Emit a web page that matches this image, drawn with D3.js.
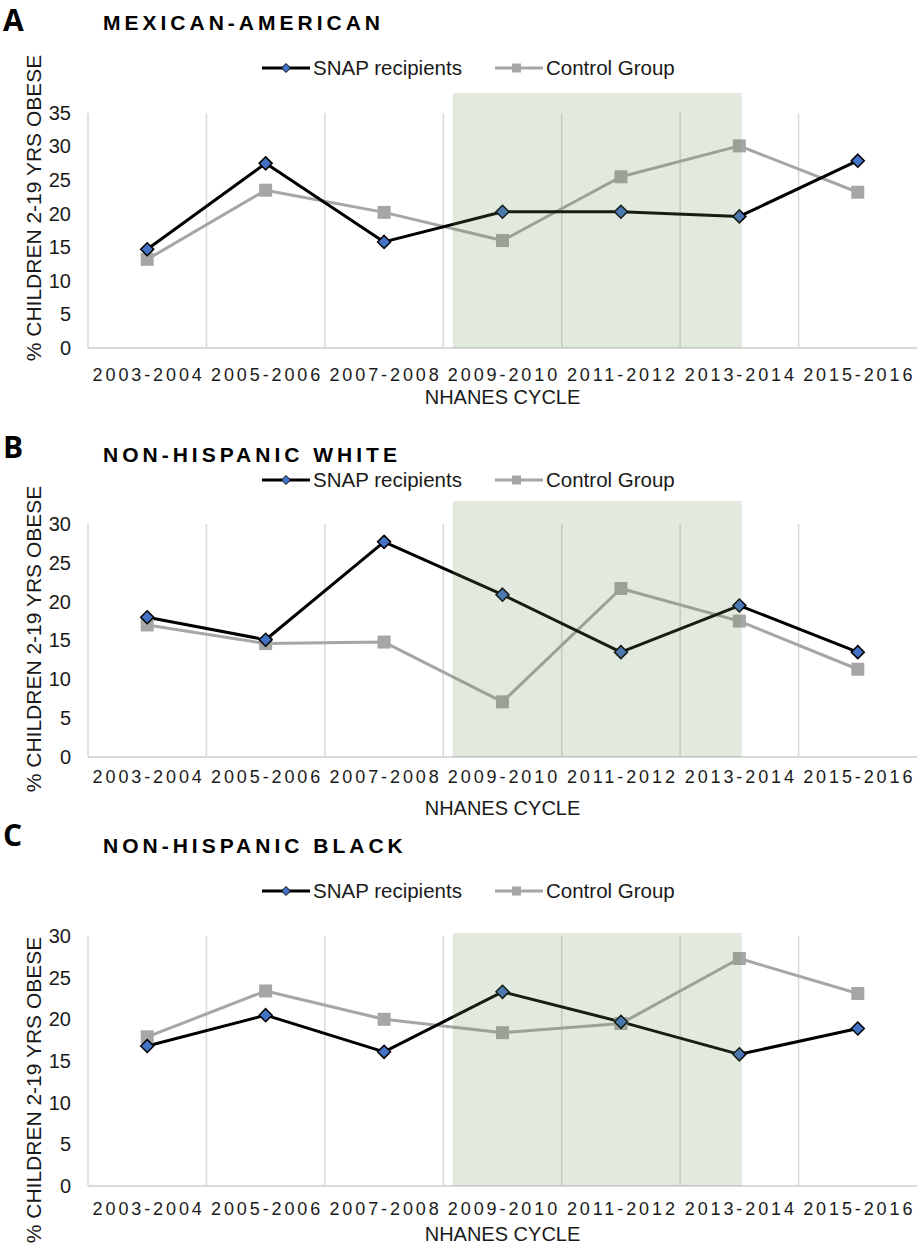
<!DOCTYPE html>
<html>
<head>
<meta charset="utf-8">
<script src="https://cdn.jsdelivr.net/npm/d3@7/dist/d3.min.js"></script>
<style>
  html, body { margin: 0; padding: 0; background: #fff; }
  svg { display: block; font-family: "Liberation Sans", Arial, sans-serif; }
</style>
</head>
<body>
<svg id="chart" width="917" height="1247"></svg>
<script>
// NHANES survey cycles (x categories)
const cycles = ["2003-2004", "2005-2006", "2007-2008", "2009-2010", "2011-2012", "2013-2014", "2015-2016"];

// % of children aged 2-19 who are obese, by group
const snapMexican    = [14.7, 27.5, 15.8, 20.3, 20.3, 19.6, 27.9];
const controlMexican = [13.2, 23.5, 20.2, 16.0, 25.5, 30.1, 23.2];
const snapWhite      = [18.0, 15.1, 27.7, 20.9, 13.5, 19.5, 13.5];
const controlWhite   = [17.0, 14.6, 14.8, 7.1, 21.7, 17.5, 11.3];
const snapBlack      = [16.8, 20.5, 16.1, 23.3, 19.7, 15.8, 18.9];
const controlBlack   = [17.9, 23.4, 20.0, 18.4, 19.5, 27.3, 23.1];

// y-axis tick labels
const ticksMexican = [0, 5, 10, 15, 20, 25, 30, 35];
const ticksWhite   = [0, 5, 10, 15, 20, 25, 30];
const ticksBlack   = [0, 5, 10, 15, 20, 25, 30];

// panel headings
const panelLetters = ["A", "B", "C"];
const panelTitles  = ["MEXICAN-AMERICAN", "NON-HISPANIC WHITE", "NON-HISPANIC BLACK"];
const seriesNames  = ["SNAP recipients", "Control Group"];
const yTitle = "% CHILDREN 2-19 YRS OBESE";
const xTitle = "NHANES CYCLE";

// highlighted period
const shadeFrom = "2009-2010";
const shadeTo   = "2013-2014";

const panelData = [
  { snap: snapMexican, control: controlMexican, ticks: ticksMexican },
  { snap: snapWhite,   control: controlWhite,   ticks: ticksWhite },
  { snap: snapBlack,   control: controlBlack,   ticks: ticksBlack }
];

// vertical placement of each panel's pieces
const layout = [
  { top: 113, bottom: 348, shadeTop: 93,  letterY: 31,  titleY: 30,  legendY: 68,  xLabY: 381,  xTitleY: 404,  yTitleC: 208 },
  { top: 524, bottom: 757, shadeTop: 501, letterY: 458, titleY: 462, legendY: 480, xLabY: 783,  xTitleY: 815,  yTitleC: 639 },
  { top: 936, bottom: 1186, shadeTop: 933, letterY: 846, titleY: 853, legendY: 891, xLabY: 1215, xTitleY: 1241, yTitleC: 1090 }
];

const left = 88, right = 917;
const gridColor = "#d9d9d9";
const snapColor = "#000000", snapFill = "#4472c4";
const ctrlColor = "#a6a6a6";
const textColor = "#1a1a1a";

const svg = d3.select("#chart");

const x = d3.scaleBand().domain(cycles).range([left, right]).padding(0);
const bw = x.bandwidth();
const cx = c => x(c) + bw / 2;

function diamond(r) {
  return `M0,${-r}L${r},0L0,${r}L${-r},0Z`;
}

panelData.forEach((pd, i) => {
  const L = layout[i];
  const g = svg.append("g");
  const yMax = d3.max(pd.ticks);
  const y = d3.scaleLinear().domain([0, yMax]).range([L.bottom, L.top]);

  // vertical gridlines at category boundaries
  g.append("g").selectAll("line")
    .data(cycles.slice(1))
    .join("line")
    .attr("x1", d => x(d)).attr("x2", d => x(d))
    .attr("y1", y(yMax)).attr("y2", y(0))
    .attr("stroke", gridColor).attr("stroke-width", 1.5);

  // axis lines
  g.append("line")
    .attr("x1", left).attr("x2", left).attr("y1", y(yMax)).attr("y2", y(0))
    .attr("stroke", gridColor).attr("stroke-width", 1.5);
  g.append("line")
    .attr("x1", left).attr("x2", right).attr("y1", y(0)).attr("y2", y(0))
    .attr("stroke", gridColor).attr("stroke-width", 2);

  // y tick labels
  const yAxis = d3.axisLeft(y).tickValues(pd.ticks).tickSize(0).tickPadding(0);
  const ya = g.append("g").attr("transform", `translate(${left - 17},0)`).call(yAxis);
  ya.select(".domain").remove();
  ya.selectAll("text")
    .attr("font-size", 20).attr("fill", textColor)
    .attr("font-family", "Liberation Sans, Arial, sans-serif");

  // x tick labels
  const xAxis = d3.axisBottom(x).tickSize(0).tickPadding(0);
  const xa = g.append("g").attr("transform", `translate(0,${L.xLabY - 13})`).call(xAxis);
  xa.select(".domain").remove();
  xa.selectAll("text")
    .attr("font-size", 18).attr("fill", textColor)
    .attr("letter-spacing", "2.9px")
    .attr("dx", "1.45px")
    .attr("font-family", "Liberation Sans, Arial, sans-serif");

  // series lines
  const line = d3.line().x((d, j) => cx(cycles[j])).y(d => y(d));
  g.append("path").datum(pd.control)
    .attr("d", line).attr("fill", "none")
    .attr("stroke", ctrlColor).attr("stroke-width", 3).attr("stroke-linejoin", "round");
  g.append("path").datum(pd.snap)
    .attr("d", line).attr("fill", "none")
    .attr("stroke", snapColor).attr("stroke-width", 3).attr("stroke-linejoin", "round");

  // markers
  g.append("g").selectAll("rect")
    .data(pd.control)
    .join("rect")
    .attr("x", (d, j) => cx(cycles[j]) - 6.5).attr("y", d => y(d) - 6.5)
    .attr("width", 13).attr("height", 13)
    .attr("fill", ctrlColor);
  g.append("g").selectAll("path")
    .data(pd.snap)
    .join("path")
    .attr("transform", (d, j) => `translate(${cx(cycles[j])},${y(d)})`)
    .attr("d", diamond(6.5))
    .attr("fill", snapFill).attr("stroke", "#000").attr("stroke-width", 1.5);

  // translucent highlight band over the chosen cycles
  const sx0 = x(shadeFrom) + bw * 0.08;
  const sx1 = x(shadeTo) + bw * 0.52;
  g.append("rect")
    .attr("x", sx0).attr("y", L.shadeTop)
    .attr("width", sx1 - sx0).attr("height", y(0) - L.shadeTop)
    .attr("fill", "rgb(110,150,100)").attr("fill-opacity", 0.2);

  // axis titles
  g.append("text")
    .attr("transform", `translate(33,${L.yTitleC}) rotate(-90)`)
    .attr("text-anchor", "middle").attr("dominant-baseline", "central")
    .attr("font-size", 21).attr("fill", textColor)
    .text(yTitle);
  g.append("text")
    .attr("x", (left + right) / 2).attr("y", L.xTitleY)
    .attr("text-anchor", "middle")
    .attr("font-size", 20).attr("fill", textColor)
    .text(xTitle);

  // panel letter and title
  g.append("text")
    .attr("x", 3).attr("y", L.letterY)
    .attr("font-size", 30).attr("font-weight", "bold").attr("fill", "#000")
    .attr("font-family", "Open Sans, Liberation Sans, Arial, sans-serif")
    .text(panelLetters[i]);
  g.append("text")
    .attr("x", 103).attr("y", L.titleY)
    .attr("font-size", 21).attr("font-weight", "bold").attr("fill", "#000")
    .attr("letter-spacing", "4px")
    .text(panelTitles[i]);

  // legend
  const lg = g.append("g").attr("transform", `translate(0,${L.legendY})`);
  lg.append("line").attr("x1", 262).attr("x2", 310).attr("y1", 0).attr("y2", 0)
    .attr("stroke", snapColor).attr("stroke-width", 3);
  lg.append("path").attr("transform", "translate(286,0)").attr("d", diamond(4.5))
    .attr("fill", snapFill).attr("stroke", "#000").attr("stroke-width", 1);
  lg.append("text").attr("x", 313).attr("y", 0).attr("dy", "0.36em")
    .attr("font-size", 20.5).attr("fill", textColor).text(seriesNames[0]);
  lg.append("line").attr("x1", 495).attr("x2", 543).attr("y1", 0).attr("y2", 0)
    .attr("stroke", ctrlColor).attr("stroke-width", 3);
  lg.append("rect").attr("x", 512).attr("y", -4.5).attr("width", 9).attr("height", 9)
    .attr("fill", ctrlColor);
  lg.append("text").attr("x", 546).attr("y", 0).attr("dy", "0.36em")
    .attr("font-size", 20.5).attr("fill", textColor).text(seriesNames[1]);
});
</script>
</body>
</html>
